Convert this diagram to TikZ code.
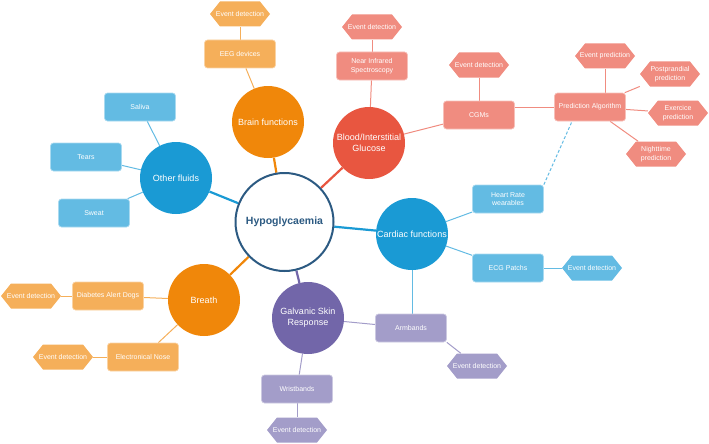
\documentclass[tikz,border=0pt]{standalone}
\usepackage{fontspec}
\setmainfont{Liberation Sans}
\usetikzlibrary{backgrounds}
\definecolor{hubc}{RGB}{44,90,130}
\definecolor{orC}{RGB}{240,135,10}
\definecolor{orL}{RGB}{245,175,90}
\definecolor{reC}{RGB}{232,86,64}
\definecolor{reL}{RGB}{240,140,128}
\definecolor{blC}{RGB}{26,154,212}
\definecolor{blL}{RGB}{99,187,227}
\definecolor{puC}{RGB}{114,102,169}
\definecolor{puL}{RGB}{163,157,201}
\tikzset{
  hub/.style={circle, draw=hubc, line width=2pt, fill=white, minimum size=98pt, inner sep=0pt,
    font=\bfseries\fontsize{10.5}{12}\selectfont, text=hubc},
  topic/.style={circle, fill=#1, minimum size=72pt, inner sep=0pt, text=white, align=center,
    font=\fontsize{9}{11}\selectfont},
  leaf/.style={rectangle, rounded corners=3pt, fill=#1, draw=#1!55!white, line width=0.7pt,
    minimum width=71pt, minimum height=28pt,
    inner sep=1pt, text=white, align=center, font=\fontsize{7}{8.5}\selectfont},
  hexa/.style={rectangle, minimum width=60pt, minimum height=25pt, inner sep=0pt,
    text=white, align=center, font=\fontsize{7}{8.5}\selectfont,
    path picture={\fill[#1] (path picture bounding box.west)
      -- ([xshift=10pt]path picture bounding box.north west)
      -- ([xshift=-10pt]path picture bounding box.north east)
      -- (path picture bounding box.east)
      -- ([xshift=-10pt]path picture bounding box.south east)
      -- ([xshift=10pt]path picture bounding box.south west) -- cycle;}},
  spoke/.style={line width=2.2pt, draw=#1},
  twig/.style={line width=1pt, draw=#1},
}
\begin{document}
\begin{tikzpicture}[x=1pt,y=-1pt]
\useasboundingbox (0,0) rectangle (709,444);
% hub and topics
\node[hub] (hypo) at (284.5,222) {Hypoglycaemia};
\node[topic=orC] (brain) at (268,122) {Brain functions};
\node[topic=reC] (blood) at (369,143) {Blood/Interstitial\\Glucose};
\node[topic=blC] (other) at (176,178) {Other fluids};
\node[topic=blC] (cardiac) at (412,234) {Cardiac functions};
\node[topic=orC] (breath) at (204,300) {Breath};
\node[topic=puC] (gsr) at (308,318) {Galvanic Skin\\Response};
% brain
\node[leaf=orL] (eeg) at (240,54) {EEG devices};
\node[hexa=orL] (ed1) at (240,14) {Event detection};
% blood
\node[leaf=reL] (nir) at (372,66) {Near Infrared\\Spectroscopy};
\node[hexa=reL] (ed2) at (372,27) {Event detection};
\node[leaf=reL] (cgm) at (479,115) {CGMs};
\node[hexa=reL] (ed3) at (479,65) {Event detection};
\node[leaf=reL] (pred) at (590,107) {Prediction Algorithm};
\node[hexa=reL] (ep) at (605,56) {Event prediction};
\node[hexa=reL] (pp) at (670,74) {Postprandial\\prediction};
\node[hexa=reL] (ex) at (678,113) {Exercice\\prediction};
\node[hexa=reL] (nt) at (656,154) {Nighttime\\prediction};
% other fluids
\node[leaf=blL] (saliva) at (140,107) {Saliva};
\node[leaf=blL] (tears) at (86,157) {Tears};
\node[leaf=blL] (sweat) at (94,213) {Sweat};
% cardiac
\node[leaf=blL] (hr) at (508,199) {Heart Rate\\wearables};
\node[leaf=blL] (ecg) at (508,268) {ECG Patchs};
\node[hexa=blL] (ed4) at (592,268) {Event detection};
% gsr
\node[leaf=puL] (arm) at (411,328) {Armbands};
\node[hexa=puL] (ed5) at (477,366) {Event detection};
\node[leaf=puL] (wrist) at (297,389) {Wristbands};
\node[hexa=puL] (ed8) at (297,430) {Event detection};
% breath
\node[leaf=orL] (dogs) at (108,296) {Diabetes Alert Dogs};
\node[hexa=orL] (ed6) at (31,296) {Event detection};
\node[leaf=orL] (nose) at (143,357) {Electronical Nose};
\node[hexa=orL] (ed7) at (63,357) {Event detection};

\begin{scope}[on background layer]
\draw[spoke=orC] (hypo) -- (brain);
\draw[spoke=reC] (hypo) -- (blood);
\draw[spoke=blC] (hypo) -- (other);
\draw[spoke=blC] (hypo) -- (cardiac);
\draw[spoke=orC] (hypo) -- (breath);
\draw[spoke=puC] (hypo) -- (gsr);
\draw[twig=orL] (brain) -- (eeg);
\draw[twig=orL] (eeg) -- (ed1);
\draw[twig=reL] (blood) -- (nir);
\draw[twig=reL] (nir) -- (ed2);
\draw[twig=reL] (blood) -- (cgm);
\draw[twig=reL] (cgm) -- (ed3);
\draw[twig=reL] (pred.west) -- (pred.west -| cgm.east);
\draw[twig=reL] (ep) -- (ep |- pred.north);
\draw[twig=reL] (pred) -- (pp);
\draw[twig=reL] (pred) -- (ex);
\draw[twig=reL] (pred) -- (nt);
\draw[twig=blL] (other) -- (saliva);
\draw[twig=blL] (other) -- (tears);
\draw[twig=blL] (other) -- (sweat);
\draw[twig=blL] (cardiac) -- (hr);
\draw[twig=blL] (cardiac) -- (ecg);
\draw[twig=blL] (ecg) -- (ed4);
\draw[twig=blL] (cardiac) -- (cardiac |- arm.north);
\draw[twig=puL] (gsr) -- (arm);
\draw[twig=puL] (arm.south east) -- (ed5);
\draw[twig=puL] (gsr) -- (wrist);
\draw[twig=puL] (wrist) -- (ed8);
\draw[twig=orL] (breath) -- (dogs);
\draw[twig=orL] (dogs) -- (ed6);
\draw[twig=orL] (breath) -- (nose);
\draw[twig=orL] (nose) -- (ed7);
\draw[twig=blL, dashed, dash pattern=on 3pt off 2pt] (hr.north east) -- ([xshift=-18pt]pred.south);
\end{scope}
\end{tikzpicture}
\end{document}
